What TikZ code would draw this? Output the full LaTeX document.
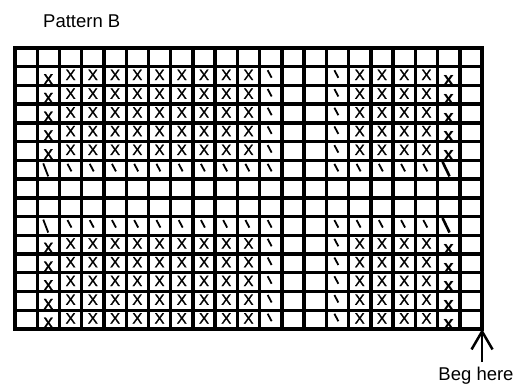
\documentclass[tikz,border=0pt]{standalone}
\usepackage{fontspec}
\setmainfont{Liberation Sans}
\newfontfamily\markfont[FakeBold=1.2]{Liberation Sans}
\usetikzlibrary{arrows.meta}

\begin{document}
\begin{tikzpicture}[x=1pt, y=-1pt,
    gridline/.style={line width=3.4pt, line cap=rect},
    capx/.style={inner sep=0pt, anchor=north, font=\markfont\fontsize{15}{15}\selectfont},
    lowx/.style={inner sep=0pt, anchor=base, font=\markfont\fontsize{19}{19}\selectfont},
    boldx/.style={inner sep=0pt, anchor=base, font=\fontsize{19}{19}\selectfont\bfseries},
    slash/.style={line width=1.8pt},
    longslash/.style={line width=1.8pt},
    label/.style={inner sep=0pt, font=\fontsize{18.5}{18.5}\selectfont},
    begarrow/.style={line width=2.5pt, -{Straight Barb[length=18pt, width=21pt]}}
  ]
  \def\cw{22.24}
  \def\rh{18.73}
  \useasboundingbox (0,0) rectangle (518,385);

  % Title
  \node[label, anchor=base west] (title) at (43,28) {Pattern B};

  % Grid
  \foreach \c in {0,...,21}
    \draw[gridline] ({15+\c*\cw},48) -- ({15+\c*\cw},{48+15*\rh});
  \foreach \r in {0,...,15}
    \draw[gridline] (15,{48+\r*\rh}) -- ({15+21*\cw},{48+\r*\rh});

  % Stitches: rows with crosses
  \foreach \r in {1,2,3,4,5,10,11,12,13,14} {
    \node[lowx] (x-\r) at ({15+1.5*\cw},{48+\r*\rh+17.5}) {x};
    \foreach \c in {2,...,10,15,16,17,18}
      \node[capx] (X-\r-\c) at ({15+(\c+0.5)*\cw},{48+\r*\rh+2.8}) {X};
    \foreach \c in {11,14}
      \draw[slash] ({15+\c*\cw+8},{48+\r*\rh+3.5}) -- ++(4,7.5);
    \node[boldx] (bx-\r) at ({15+19.5*\cw},{48+\r*\rh+19}) {x};
  }

  % Stitches: slash rows
  \foreach \r in {6,9} {
    \draw[longslash] ({15+\cw+6},{48+\r*\rh+3}) -- ++(5,13);
    \foreach \c in {2,...,11,14,15,16,17,18}
      \draw[slash] ({15+\c*\cw+8},{48+\r*\rh+3.5}) -- ++(4,7.5);
    \draw[longslash, line width=2.6pt] ({15+19*\cw+5},{48+\r*\rh+1.5}) -- ++(7,14.5);
  }

  % Start marker
  \coordinate (corner) at ({15+21*\cw},{48+15*\rh});
  \coordinate (tail) at ({15+21*\cw},362);
  \node[label, anchor=base] (beg) at (476,380) {Beg here};
  \draw[begarrow] (tail) -- (corner);
\end{tikzpicture}
\end{document}
